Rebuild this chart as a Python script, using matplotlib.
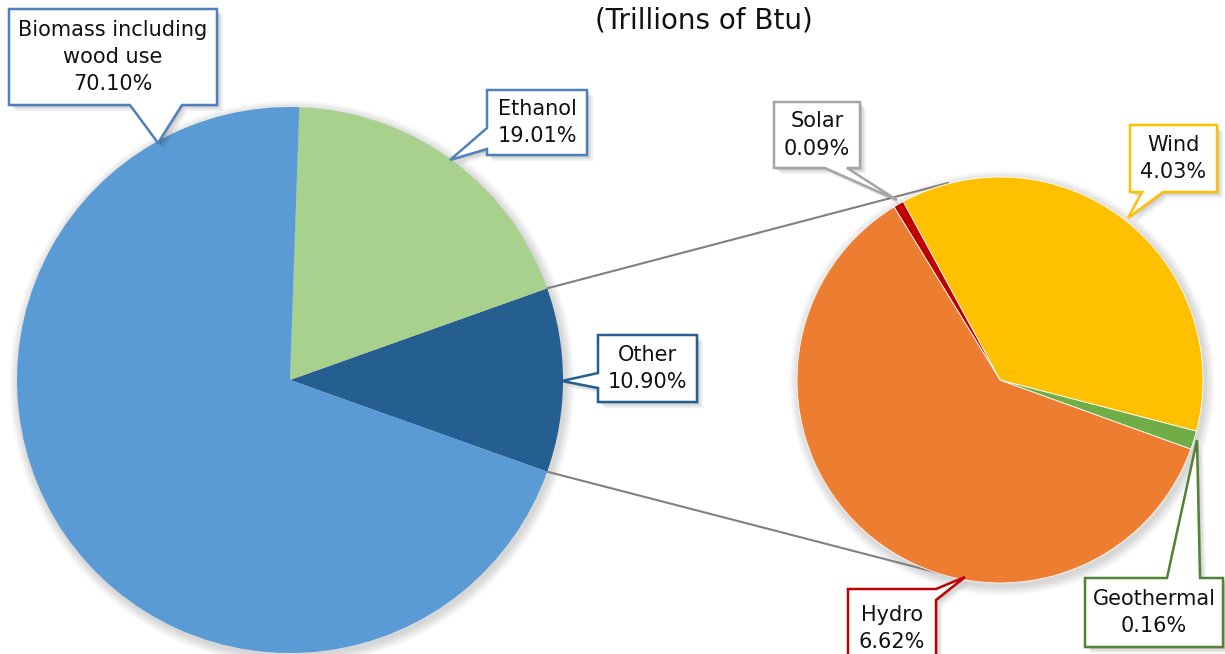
import matplotlib
matplotlib.use("Agg")
import matplotlib.pyplot as plt
from matplotlib.patches import Polygon, Circle
import numpy as np

# data (percent of total renewable consumption)
main_labels = ["Other", "Ethanol", "Biomass including\nwood use"]
main_pct = [10.90, 19.01, 70.10]
main_colors = ["#255E91", "#A9D18E", "#5B9BD5"]

sub_labels = ["Wind", "Solar", "Hydro", "Geothermal"]
sub_pct = [4.03, 0.09, 6.62, 0.16]
sub_colors = ["#FFC000", "#C00000", "#ED7D31", "#70AD47"]

title = "(Trillions of Btu)"

W, H = 1225, 654
plt.rcParams["font.family"] = ["DejaVu Sans"]

fig = plt.figure(figsize=(W / 100, H / 100), dpi=100)
ax = fig.add_axes([0, 0, 1, 1])


def P(x, y):
    # pixel position (y down) -> data coords
    return (x, H - y)


# big pie, "Other" centred on the right
other_ang = main_pct[0] / 100 * 360
big, _ = ax.pie(main_pct, colors=main_colors, startangle=-other_ang / 2,
                center=P(290, 380), radius=273, counterclock=True,
                wedgeprops=dict(linewidth=0, zorder=2), frame=False)

# second pie, breakdown of "Other"
small, _ = ax.pie(sub_pct, colors=sub_colors, startangle=-14.6,
                  center=P(1000, 380), radius=203, counterclock=True,
                  wedgeprops=dict(linewidth=0.6, edgecolor="white", zorder=2),
                  frame=False)

# soft shadows behind both pies
for wedges in (big, small):
    c = wedges[0].center
    rad = wedges[0].r
    for k in range(1, 9):
        ax.add_patch(Circle((c[0] + 2, c[1] - 3), rad + k * 1.2, facecolor="black",
                            edgecolor="none", alpha=0.018, zorder=0.5))

# connector lines from the "Other" slice to the second pie
w = big[0]
cx, cy = w.center
r = w.r
x_top = cx + r * np.cos(np.radians(w.theta2))
y_top = cy + r * np.sin(np.radians(w.theta2))
x_bot = cx + r * np.cos(np.radians(w.theta1))
y_bot = cy + r * np.sin(np.radians(w.theta1))
ax.plot([x_top, 948], [y_top, H - 183], color="#808080", lw=1.5, zorder=1)
ax.plot([x_bot, 958], [y_bot, H - 578], color="#808080", lw=1.5, zorder=1)


def callout(box, side, base, tip, edge, text):
    x0, y0, x1, y1 = box
    b0, b1 = base
    pts = [(x0, y0)]
    if side == "top":
        pts += [(b0, y0), tip, (b1, y0)]
    pts += [(x1, y0)]
    if side == "right":
        pts += [(x1, b0), tip, (x1, b1)]
    pts += [(x1, y1)]
    if side == "bottom":
        pts += [(b1, y1), tip, (b0, y1)]
    pts += [(x0, y1)]
    if side == "left":
        pts += [(x0, b1), tip, (x0, b0)]
    data = [P(px, py) for px, py in pts]
    for k, a in [(6, 0.06), (4, 0.08), (2, 0.10)]:
        sh = [(px + k, py - k) for px, py in data]
        ax.add_patch(Polygon(sh, closed=True, facecolor="black", edgecolor="none",
                             alpha=a, zorder=4))
    ax.add_patch(Polygon(data, closed=True, facecolor="white", edgecolor=edge,
                         lw=1.8, zorder=5, joinstyle="miter"))
    ax.text((x0 + x1) / 2, H - (y0 + y1) / 2, text, ha="center", va="center",
            fontsize=15, color="#111111", linespacing=1.45, zorder=6)


fmt = "{}\n{:.2f}%"
callout((9, 9, 217, 105), "bottom", (130, 182), (158, 143), "#4F81BD",
        fmt.format(main_labels[2], main_pct[2]))
callout((487, 90, 587, 155), "left", (128, 149), (450, 160), "#4F81BD",
        fmt.format(main_labels[1], main_pct[1]))
callout((598, 335, 697, 402), "left", (373, 388), (562, 381), "#255E91",
        fmt.format(main_labels[0], main_pct[0]))
callout((774, 102, 860, 168), "bottom", (825, 847), (897, 200), "#A5A5A5",
        fmt.format(sub_labels[1], sub_pct[1]))
callout((1130, 125, 1217, 192), "bottom", (1142, 1163), (1128, 218), "#FFC000",
        fmt.format(sub_labels[0], sub_pct[0]))
callout((1085, 578, 1223, 647), "top", (1167, 1200), (1197, 440), "#548235",
        fmt.format(sub_labels[3], sub_pct[3]))
callout((848, 589, 936, 668), "right", (589, 600), (965, 577), "#C00000",
        fmt.format(sub_labels[2], sub_pct[2]))

ax.text(704, H - 21, title, ha="center", va="center", fontsize=20, color="#111111")

ax.set_xlim(0, W)
ax.set_ylim(0, H)
ax.set_aspect("equal")
ax.axis("off")
fig.savefig("out.png", dpi=100, facecolor="white")
